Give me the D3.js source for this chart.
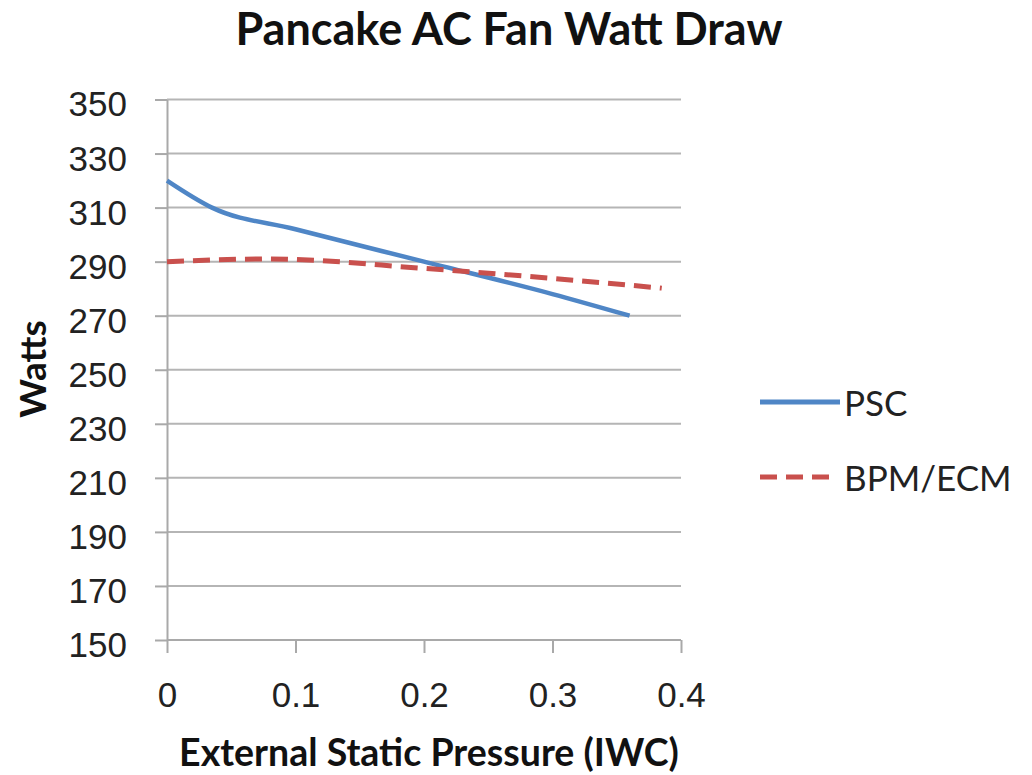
<!DOCTYPE html>
<html>
<head>
<meta charset="utf-8">
<title>Pancake AC Fan Watt Draw</title>
<script src="https://cdn.jsdelivr.net/npm/d3@7"></script>
<style>
  body { margin: 0; background: #fff; }
  svg { display: block; font-family: Lato, "Open Sans", sans-serif; }
  .grid line { stroke: #b5b5b5; stroke-width: 2; }
  .axis path, .axis line { stroke: #a9a9a9; stroke-width: 2; }
  .axis text { fill: #222; font-size: 35px; }
</style>
</head>
<body>
<svg width="1032" height="775"></svg>
<script>
var pscX = [0, 0.035, 0.1, 0.2, 0.3, 0.36];
var pscY = [320, 310, 302, 290, 278, 270];
var ecmX = [0, 0.08, 0.2, 0.3, 0.385];
var ecmY = [290, 291, 287.5, 283.8, 280.2];
var yTicks = [150, 170, 190, 210, 230, 250, 270, 290, 310, 330, 350];
var xTicks = [0, 0.1, 0.2, 0.3, 0.4];
var seriesNames = ["PSC", "BPM/ECM"];
var seriesColors = ["#4f86c6", "#c9504d"];

var svg = d3.select("svg");
var plotL = 167, plotR = 681, plotT = 99.5, plotB = 640;

var x = d3.scaleLinear().domain([0, 0.4]).range([plotL, plotR]);
var y = d3.scaleLinear().domain([150, 350]).range([plotB, plotT]);

// grid
svg.append("g").attr("class", "grid")
  .selectAll("line").data(yTicks.slice(1)).enter().append("line")
  .attr("x1", plotL).attr("x2", plotR)
  .attr("y1", d => y(d)).attr("y2", d => y(d));

var yAxis = svg.append("g").attr("class", "axis")
  .attr("transform", "translate(" + plotL + ",0)")
  .call(d3.axisLeft(y).tickValues(yTicks).tickSize(12).tickSizeOuter(0).tickPadding(28));
yAxis.selectAll("text").attr("dy", "0.47em");

var xAxis = svg.append("g").attr("class", "axis")
  .attr("transform", "translate(0," + plotB + ")")
  .call(d3.axisBottom(x).tickValues(xTicks).tickFormat(d => d === 0 ? "0" : d3.format(".1f")(d))
    .tickSize(13).tickSizeOuter(0));
xAxis.select(".domain").attr("d", "M" + plotL + ",0H" + plotR);
xAxis.selectAll("text").attr("y", 67).attr("dy", 0);

var line = d3.line().x(d => x(d[0])).y(d => y(d[1])).curve(d3.curveMonotoneX);

svg.append("path").datum(d3.zip(pscX, pscY))
  .attr("d", line).attr("fill", "none")
  .attr("stroke", seriesColors[0]).attr("stroke-width", 4.5);

svg.append("path").datum(d3.zip(ecmX, ecmY))
  .attr("d", line).attr("fill", "none")
  .attr("stroke", seriesColors[1]).attr("stroke-width", 5)
  .attr("stroke-dasharray", "17,9");

// legend
var lg = svg.append("g").selectAll("g").data(seriesNames).enter().append("g")
  .attr("transform", (d, i) => "translate(760," + (402 + i * 75) + ")");
lg.append("line").attr("x1", 0).attr("x2", (d, i) => i === 0 ? 80 : 72)
  .attr("stroke", (d, i) => seriesColors[i])
  .attr("stroke-width", 5)
  .attr("stroke-dasharray", (d, i) => i === 0 ? null : "17,9");
lg.append("text").attr("x", (d, i) => i === 0 ? 84 : 84).attr("dy", "0.4em")
  .attr("fill", "#222").attr("font-size", 35).text(d => d);

// titles
svg.append("text").attr("x", 509).attr("y", 45).attr("text-anchor", "middle")
  .attr("font-size", 45).attr("font-weight", "bold").attr("fill", "#111")
  .text("Pancake AC Fan Watt Draw");

svg.append("text").attr("x", 429).attr("y", 766).attr("text-anchor", "middle")
  .attr("font-size", 37.5).attr("font-weight", "bold").attr("fill", "#111")
  .text("External Static Pressure (IWC)");

svg.append("text").attr("transform", "translate(46,369) rotate(-90)")
  .attr("text-anchor", "middle")
  .attr("font-size", 37).attr("font-weight", "bold").attr("fill", "#111")
  .text("Watts");
</script>
</body>
</html>
